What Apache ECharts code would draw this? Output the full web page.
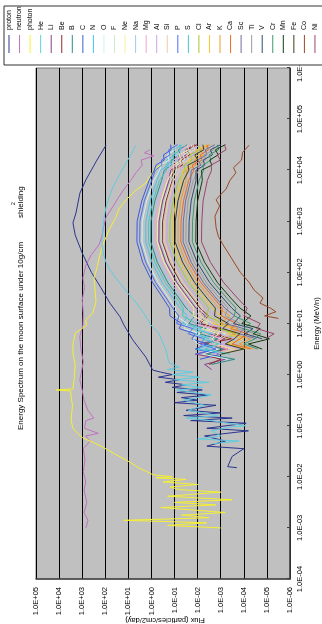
<!DOCTYPE html>
<html><head><meta charset="utf-8">
<script src="https://cdn.jsdelivr.net/npm/echarts@6/dist/echarts.min.js"></script>
<style>html,body{margin:0;padding:0;background:#fff;overflow:hidden;width:322px;height:624px}
#c{position:absolute;left:0;top:0;width:624px;height:322px;transform-origin:0 0;transform:translate(0,624px) rotate(-90deg)}</style>
</head><body><div id="c"></div>
<script>
// ---- tick labels ----
const energyTickLabels = ['1.0E-04','1.0E-03','1.0E-02','1.0E-01','1.0E+00','1.0E+01','1.0E+02','1.0E+03','1.0E+04','1.0E+05','1.0E+06'];
const fluxTickLabels = ['1.0E-06','1.0E-05','1.0E-04','1.0E-03','1.0E-02','1.0E-01','1.0E+00','1.0E+01','1.0E+02','1.0E+03','1.0E+04','1.0E+05'];
const seriesNames = ['proton','neutron','photon','He','Li','Be','B','C','N','O','F','Ne','Na','Mg','Al','Si','P','S','Cl','Ar','K','Ca','Sc','Ti','V','Cr','Mn','Fe','Co','Ni'];
const seriesColors = ['#2a3590','#c070c0','#f5f032','#60cce0','#8c3c8c','#902828','#2c8c8c','#3c5ad8','#40c4f0','#cff2f2','#cdeccd','#f2f2a0','#a2c8ee','#f2a4cc','#c8a4ee','#f4caa2','#4a70ee','#40c8c8','#a4c830','#f4c828','#f49a28','#ec6a24','#6e6e9c','#9a9a9a','#2c4c70','#3c9870','#143c14','#3c3c16','#9a4824','#9a446c'];

// ---- proton ----
const protonE = [30900,15800,6460,3550,1450,933,537,240,100,51.3,25.1,13.5,9.33,4.79,2.19,1.23,1.12,1.0,0.891,0.794,0.708,0.631,0.562,0.501,0.447,0.398,0.355,0.316,0.282,0.251,0.2,0.178,0.158,0.141,0.126,0.112,0.0891,0.0794,0.0631,0.0501,0.0398,0.0355,0.0251,0.0158,0.0151];
const protonF = [93,229,692,1260,1860,2510,2000,1000,398,158,63,22.9,15.5,6.46,1.74,0.89,0.4,0.126,0.5,0.063,0.25,0.0316,0.126,0.0063,0.079,0.0032,0.05,0.01,0.1,0.0016,0.0316,0.001,0.04,3.2e-4,0.02,7.9e-5,0.004,6.3e-5,0.005,6.3e-4,0.004,1e-4,3.2e-4,5e-4,2e-4];
// ---- neutron ----
const neutronE = [25100,21900,19100,15800,12600,8910,6310,4470,3020,2000,1200,676,501,347,224,138,77.6,50.1,28.8,15.8,9.33,5.62,3.02,1.78,0.794,0.501,0.316,0.2,0.141,0.126,0.0891,0.0708,0.0631,0.0501,0.0355,0.0214,0.0126,0.00794,0.0055,0.00316,0.002,0.00141,0.001];
const neutronF = [1.17,2.0,0.79,2.8,2.5,4.7,7.9,14.1,25.7,44.7,93,126,141,186,398,692,933,794,1000,891,933,1260,1120,891,1260,1000,832,562,316,692,794,200,708,457,891,759,891,708,832,631,832,562,692];
// ---- photon ----
const photonE = [13800,10000,5620,3980,2630,1780,1200,676,347,191,126,77.6,50.1,26.3,15.8,11.7,9.33,6.46,3.98,2.63,1.58,0.794,0.525,0.501,0.479,0.363,0.251,0.129,0.0891,0.0708,0.0575,0.0468,0.038,0.0282,0.0214,0.0178,0.0148,0.0126,0.011,0.01,0.00955,0.00891,0.00794,0.00708,0.00631,0.00562,0.00501,0.00417,0.00355,0.00316,0.00282,0.00251,0.002,0.00178,0.00158,0.00141,0.00126,0.00112,0.001];
const photonF = [0.32,0.79,1.74,5,12.6,25,34.7,69,126,186,224,309,282,251,355,708,631,2000,2510,2510,2000,2240,2510,13500,3160,3020,2630,3020,2510,1580,933,316,126,40,12.6,6.3,3.47,1.58,0.87,0.126,0.63,0.0316,0.316,0.01,0.158,0.063,0.001,0.2,3.2e-4,0.1,0.0016,0.4,6.3e-4,0.05,0.0032,15.8,0.004,0.2,0.001];
// ---- He ----
const heE = [30900,20000,13800,7940,4680,2820,1910,1000,676,398,251,158,112,77.6,50.1,36.3,25.1,17,9.33,6.46,3.02,1.7,1.41,1.26,1.12,1.0,0.891,0.794,0.708,0.631,0.562,0.501,0.398,0.316,0.251,0.2,0.158,0.141,0.126,0.112,0.1,0.0955,0.0794,0.0631,0.055,0.0501,0.0447];
const heF = [4.7,7.9,12.6,25,46.8,70.8,93,120,126,141,126,93,63,34.7,15.8,9.3,4.47,2.34,1.05,0.48,0.234,0.174,0.063,0.2,0.0158,0.126,0.0079,0.1,0.0032,0.05,0.0063,0.079,0.0025,0.04,0.005,0.025,0.00126,0.0316,0.0025,5e-4,7.9e-5,3.2e-4,0.0025,0.001,0.01,1.6e-4,0.002];
// ---- heavier ions share one energy grid ----
const ionE = [31600,25100,20000,15800,12600,10000,6310,2510,1000,398,158,63.1,31.6,20.0,14.1,10.0,7.94,6.31,5.01,3.98,3.16,2.51,2.0,1.58,1.26];
const liF = [0.0129,0.0347,0.031,0.0724,0.059,0.148,0.174,0.331,0.468,0.479,0.24,0.079,0.0257,0.012,0.0046,0.0091,0.00145,0.0032,0.00065,0.01,0.00126,0.0126,0.00063,0.005,0.0025];
const beF = [0.0107,0.0288,0.0219,0.051,0.0457,0.115,0.129,0.234,0.331,0.339,0.166,0.055,0.017,0.0079,0.0034,0.0076,0.00107,0.0019,0.00034,0.005,0.0005,0.0063,0.001,0.0032];
const bF = [0.0275,0.069,0.055,0.138,0.138,0.28,0.363,0.71,1.05,1.07,0.56,0.195,0.065,0.0316,0.0135,0.024,0.0043,0.0085,0.00135,0.005,0.00079,0.004,0.00025,0.0025];
const cF = [0.148,0.141,0.30,0.28,0.63,0.76,1.26,2.63,4.17,4.27,2.4,0.89,0.32,0.166,0.158,0.05,0.063,0.0126,0.0178,0.004,0.0126,0.001,0.0079];
const nF = [0.047,0.112,0.095,0.214,0.182,0.41,0.575,1.15,1.74,1.78,0.95,0.34,0.115,0.0575,0.0275,0.0437,0.0069,0.0138,0.0031,0.0025,0.01,0.00063];
const oF = [0.1,0.095,0.204,0.174,0.39,0.44,0.79,1.62,2.5,2.57,1.41,0.51,0.178,0.091,0.087,0.0275,0.039,0.0078,0.0155,0.01,0.00126,0.0063,0.0005];
const fF = [0.019,0.0162,0.0427,0.0363,0.081,0.081,0.141,0.263,0.372,0.38,0.19,0.062,0.0195,0.0091,0.0087,0.00245,0.0039,0.00062,0.00123];
const neF = [0.0275,0.0251,0.063,0.05,0.107,0.107,0.204,0.38,0.55,0.56,0.288,0.095,0.031,0.0145,0.0155,0.0035,0.0062,0.00123,0.00245,0.0016,0.00032];
const naF = [0.037,0.0316,0.079,0.071,0.166,0.158,0.295,0.56,0.83,0.85,0.437,0.151,0.05,0.024,0.0288,0.0072,0.0115,0.0018,0.0032,0.001,0.004];
const mgF = [0.0204,0.051,0.0417,0.11,0.087,0.186,0.25,0.48,0.69,0.71,0.363,0.123,0.04,0.019,0.0081,0.0162,0.0023,0.0041,0.00091,0.0032,0.0005,0.002];
const alF = [0.0071,0.0186,0.0141,0.0355,0.0316,0.076,0.085,0.151,0.209,0.214,0.102,0.0331,0.01,0.0046,0.0017,0.0035,0.00055,0.0011,0.000245,0.001,0.000126];
const siF = [0.0158,0.0135,0.03,0.024,0.063,0.065,0.105,0.19,0.263,0.269,0.132,0.0427,0.0132,0.006,0.0081,0.0018,0.0029,0.00046,0.00091,0.002,0.00025,0.00126];
const pF = [0.074,0.178,0.158,0.37,0.355,0.68,0.98,2.04,3.16,3.24,1.78,0.66,0.23,0.12,0.065,0.081,0.0162,0.0257,0.0051,0.0079,0.0016,0.0126];
const sF = [0.062,0.052,0.123,0.11,0.234,0.224,0.447,0.87,1.32,1.35,0.71,0.25,0.083,0.0417,0.0447,0.0112,0.0158,0.0028,0.0063,0.00126,0.005,0.0004];
const clF = [0.0095,0.0078,0.0219,0.0174,0.039,0.0355,0.066,0.117,0.158,0.162,0.078,0.0245,0.0074,0.0033,0.004,0.00079,0.00126,0.000224,0.00056];
const arF = [0.004,0.0107,0.0091,0.024,0.019,0.0437,0.05,0.089,0.117,0.12,0.056,0.0178,0.0052,0.0023,0.00098,0.0022,0.000275,0.00049,0.00011,0.0005,0.000079];
const kF = [0.0029,0.0078,0.0055,0.0138,0.0117,0.031,0.0316,0.054,0.069,0.071,0.0324,0.0098,0.0028,0.0012,0.00041,0.001,0.00018,0.00032,0.000051,0.000158,0.00004];
const caF = [0.004,0.0034,0.0076,0.0065,0.017,0.0145,0.0245,0.0407,0.0525,0.0537,0.024,0.0072,0.002,0.00087,0.00093,0.00021,0.00037,0.000066,0.000148,0.00032,0.00005];
const scF = [0.0018,0.0047,0.004,0.01,0.0071,0.019,0.02,0.0331,0.0417,0.0427,0.019,0.0056,0.0016,0.00066,0.00025,0.00063,0.0001,0.000158,0.000028];
const tiF = [0.0023,0.002,0.0052,0.0045,0.01,0.0091,0.0155,0.0257,0.0316,0.0324,0.0141,0.0042,0.00115,0.00048,0.00065,0.000145,0.0002,0.000032,0.000065];
const vF = [0.001,0.0028,0.0023,0.0058,0.0049,0.0117,0.0117,0.019,0.0234,0.024,0.0105,0.003,0.00081,0.00033,0.000141,0.00028,0.00004,0.000089,0.000016];
const crF = [0.0014,0.00123,0.0032,0.0026,0.006,0.0055,0.0087,0.0138,0.0166,0.017,0.0072,0.002,0.00055,0.00022,0.00026,0.000052,0.000105,0.0000186,0.000033,0.0001,0.000025];
const mnF = [0.00063,0.0017,0.00129,0.003,0.0024,0.0068,0.0063,0.01,0.0117,0.012,0.005,0.00138,0.00037,0.000145,0.000049,0.000123,0.0000195,0.000039,0.0000078,0.000063,0.000016];
const feF = [0.0059,0.0054,0.0132,0.01,0.0263,0.024,0.0407,0.071,0.093,0.095,0.0447,0.0135,0.004,0.0017,0.00186,0.00047,0.00083,0.000148,0.00026,0.00063,0.0001,0.001];
const niF = [0.00069,0.00059,0.00138,0.00105,0.0026,0.0025,0.0038,0.0058,0.0066,0.0068,0.0028,0.00074,0.00019,0.000072,0.000098,0.0000195,0.0000275,0.0000049,0.000011];
// ---- Co (own energies) ----
const coE = [30900,22400,15800,11200,8910,6310,4270,3160,2630,2000,1260,741,501,347,251,138,100,64.6,44.7,31.6,25.1,20,17,14.1,12.6];
const coF = [5.9e-5,1.12e-4,1.26e-4,2.8e-4,2.2e-4,4e-4,5.9e-4,1.12e-3,1.58e-3,1.12e-3,1.78e-3,1.58e-3,1.26e-3,7.9e-4,5e-4,2.2e-4,1.41e-4,6e-5,3.5e-5,1.48e-5,2e-5,7e-6,4.1e-6,1.26e-5,3.2e-6];

const seriesData = {
  proton:[protonE,protonF], neutron:[neutronE,neutronF], photon:[photonE,photonF], He:[heE,heF],
  Li:[ionE,liF], Be:[ionE,beF], B:[ionE,bF], C:[ionE,cF], N:[ionE,nF], O:[ionE,oF], F:[ionE,fF],
  Ne:[ionE,neF], Na:[ionE,naF], Mg:[ionE,mgF], Al:[ionE,alF], Si:[ionE,siF], P:[ionE,pF], S:[ionE,sF],
  Cl:[ionE,clF], Ar:[ionE,arF], K:[ionE,kF], Ca:[ionE,caF], Sc:[ionE,scF], Ti:[ionE,tiF], V:[ionE,vF],
  Cr:[ionE,crF], Mn:[ionE,mnF], Fe:[ionE,feF], Co:[coE,coF], Ni:[ionE,niF]
};

const FONT = 'Liberation Sans, Arial, sans-serif';
const chart = echarts.init(document.getElementById('c'), null, {renderer:'canvas'});
const series = seriesNames.map((name, k) => {
  const [E, F] = seriesData[name];
  return {
    name, type:'line', symbol:'none', showSymbol:false, color: seriesColors[k],
    lineStyle:{width:1, color: seriesColors[k]},
    data: F.map((f, i) => [E[i], f]),
    silent:true, animation:false
  };
});

chart.setOption({
  animation:false,
  grid:{left:45, right:68, top:36, bottom:32, containLabel:false, outerBoundsMode:'none',
    show:true, backgroundColor:'#c0c0c0', borderColor:'#7a7a7a', borderWidth:1},
  xAxis:{type:'log', logBase:10, min:1e-4, max:1e6, interval:1,
    name:'Energy (MeV/n)', nameLocation:'middle', nameGap:23,
    nameTextStyle:{fontFamily:FONT, fontSize:7.5, color:'#000'},
    axisLine:{show:true, lineStyle:{color:'#404040', width:1.5}},
    axisTick:{show:true, inside:true, length:3, lineStyle:{color:'#404040'}},
    axisLabel:{fontFamily:FONT, fontSize:7.5, color:'#000', margin:6,
      formatter: v => energyTickLabels[Math.round(Math.log10(v)) + 4]},
    splitLine:{show:false}},
  yAxis:{type:'log', logBase:10, min:1e-6, max:1e5, interval:1,
    axisLine:{show:true, lineStyle:{color:'#404040', width:1.5}},
    axisTick:{show:false},
    axisLabel:{fontFamily:FONT, fontSize:7.5, color:'#000', margin:8,
      formatter: v => fluxTickLabels[Math.round(Math.log10(v)) + 6]},
    splitLine:{show:true, lineStyle:{color:'#000', width:1}}},
  legend:{data:seriesNames, orient:'vertical', left:571, top:5, padding:0, z:30,
    icon:'rect', itemWidth:18, itemHeight:1, itemGap:2.55,
    textStyle:{fontFamily:FONT, fontSize:7, color:'#000', lineHeight:8}},
  graphic:[
    {type:'rect', z:20, shape:{x:559, y:4, width:59, height:330}, style:{fill:'#fff', stroke:'#333', lineWidth:1}, silent:true},
    {type:'text', x:4, y:165, rotation:Math.PI/2, style:{text:'Flux (particles/cm2/day)', font:'7.5px Liberation Sans, Arial, sans-serif', fill:'#000', textVerticalAlign:'middle', textAlign:'center'}},
    {type:'text', x:194, y:21, style:{text:'Energy Spectrum on the moon surface under 10g/cm', font:'8px Liberation Sans, Arial, sans-serif', fill:'#000', textVerticalAlign:'middle', textAlign:'left'}},
    {type:'text', x:406, y:21, style:{text:'shielding', font:'8px Liberation Sans, Arial, sans-serif', fill:'#000', textVerticalAlign:'middle', textAlign:'left'}},
    {type:'text', x:419, y:14, style:{text:'2', font:'5px Liberation Sans, Arial, sans-serif', fill:'#000', textVerticalAlign:'middle', textAlign:'left'}}
  ],
  series
});
</script></body></html>
